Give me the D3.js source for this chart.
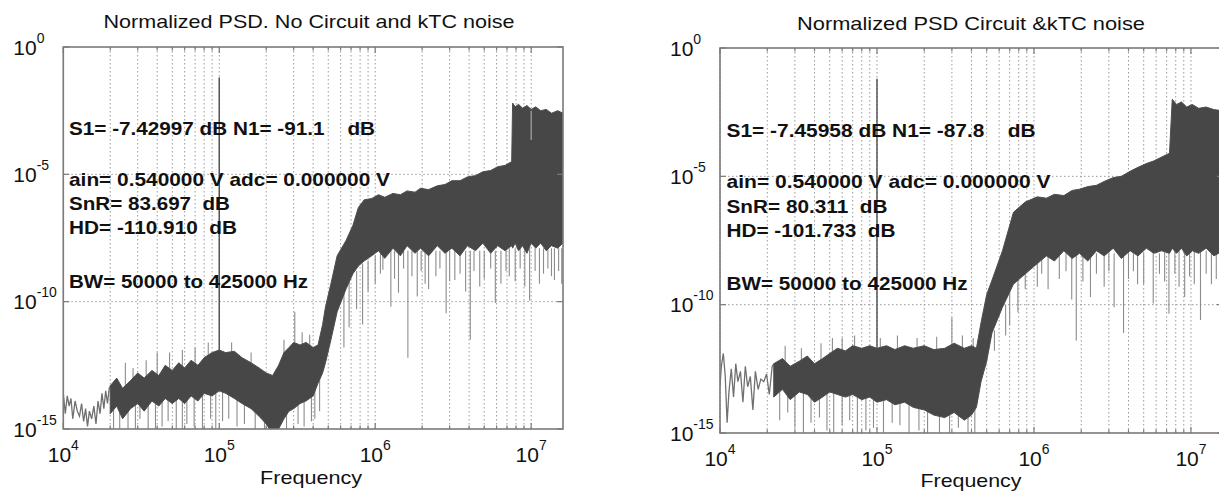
<!DOCTYPE html>
<html><head><meta charset="utf-8">
<script src="https://cdn.jsdelivr.net/npm/d3@7"></script>
<style>
body{margin:0;background:#fff}
text{font-family:"Liberation Sans",Arial,Helvetica,sans-serif;white-space:pre}
</style>
</head><body>
<svg id="chart" width="1219" height="494"></svg>
<script>
// ---------------- DATA ----------------
const titles = ["Normalized PSD. No Circuit and kTC noise", "Normalized PSD Circuit &kTC noise"];
const xLabel = "Frequency";
const xTickValues = [1e4, 1e5, 1e6, 1e7];
const xTickExps = ["4", "5", "6", "7"];
const yTickValues = [1, 1e-5, 1e-10, 1e-15];
const yTickExps = ["0", "-5", "-10", "-15"];
const xDomain = [1e4, 1.6e7];
const yDomain = [1e-15, 1];

const leftNotes = ["S1= -7.42997 dB N1= -91.1    dB", "ain= 0.540000 V adc= 0.000000 V", "SnR= 83.697  dB", "HD= -110.910  dB", "BW= 50000 to 425000 Hz"];
const rightNotes = ["S1= -7.45958 dB N1= -87.8    dB", "ain= 0.540000 V adc= 0.000000 V", "SnR= 80.311  dB", "HD= -101.733  dB", "BW= 50000 to 425000 Hz"];

// signal tone (log10 PSD at peak)
const toneFreq = 1e5;
const tonePeakExp = [-1.2, -1.2];

// ---- left panel (log10 of normalized PSD) ----
const leftLowFreq = [1.00e4,1.03e4,1.06e4,1.09e4,1.12e4,1.15e4,1.19e4,1.23e4,1.27e4,1.31e4,1.35e4,1.39e4,1.43e4,1.47e4,1.52e4,1.57e4,1.62e4,1.67e4,1.72e4,1.77e4,1.82e4,1.87e4,1.92e4,1.97e4,2.02e4];
const leftLowExp  = [-13.6,-14.4,-13.7,-14.1,-13.8,-14.6,-13.9,-14.3,-14.5,-14.0,-14.7,-14.2,-14.9,-14.3,-14.6,-14.1,-14.8,-13.9,-14.4,-13.6,-14.2,-13.5,-14.0,-13.4,-13.3];

const leftBandFreq  = [2.0e4,2.2e4,2.4e4,2.7e4,3.0e4,3.3e4,3.7e4,4.1e4,4.5e4,5.0e4,5.5e4,6.0e4,6.6e4,7.3e4,8.0e4,9.0e4,1.0e5,1.1e5,1.25e5,1.4e5,1.6e5,1.8e5,2.0e5,2.2e5,2.4e5,2.6e5,2.8e5,3.0e5,3.3e5,3.6e5,4.0e5,4.3e5,4.6e5,4.8e5,5.2e5,5.7e5,6.5e5,7.2e5,7.8e5,8.5e5,9.5e5,1.05e6,1.15e6,1.3e6,1.45e6,1.6e6,1.8e6,1.95e6,2.2e6,2.5e6,2.8e6,3.1e6,3.5e6,3.9e6,4.4e6,4.9e6,5.5e6,6.1e6,6.8e6,7.5e6,7.6e6,7.9e6,8.3e6,8.8e6,9.4e6,1.0e7,1.07e7,1.15e7,1.25e7,1.35e7,1.48e7,1.6e7];
const leftBandUpper = [-13.3,-13.0,-13.4,-13.1,-12.8,-13.0,-12.7,-12.9,-12.5,-12.7,-12.4,-12.6,-12.3,-12.5,-12.2,-12.0,-11.9,-12.0,-11.95,-12.2,-12.4,-12.6,-12.8,-12.9,-12.5,-12.0,-11.8,-11.6,-11.7,-11.6,-11.8,-11.7,-10.9,-10.2,-9.3,-8.2,-7.6,-7.0,-6.3,-6.0,-5.95,-5.8,-5.9,-5.75,-5.8,-5.65,-5.7,-5.55,-5.6,-5.45,-5.4,-5.25,-5.25,-5.1,-5.05,-4.9,-4.85,-4.7,-4.65,-4.5,-2.2,-2.35,-2.25,-2.4,-2.3,-2.45,-2.35,-2.5,-2.45,-2.6,-2.5,-2.6];
const leftBandLower = [-14.4,-14.1,-14.6,-14.2,-14.0,-14.3,-13.9,-14.1,-13.8,-14.0,-13.8,-14.0,-13.7,-13.9,-13.6,-13.7,-13.5,-13.6,-13.8,-14.0,-14.2,-14.5,-14.8,-15.2,-15.0,-14.6,-14.3,-14.2,-14.0,-13.9,-13.7,-13.2,-12.8,-12.4,-11.5,-10.4,-9.5,-8.9,-8.6,-8.4,-8.2,-8.0,-8.3,-7.9,-8.2,-7.8,-8.1,-7.9,-8.2,-7.8,-8.1,-7.9,-8.2,-7.8,-8.0,-7.7,-8.1,-7.8,-8.0,-7.8,-7.9,-7.7,-8.0,-7.8,-8.1,-7.7,-7.9,-7.7,-8.0,-7.8,-7.9,-7.7];

const leftSpikeFreq   = [2.1e4,2.3e4,2.6e4,2.9e4,3.1e4,3.5e4,3.9e4,4.3e4,4.7e4,5.3e4,5.8e4,6.2e4,6.9e4,7.8e4,8.8e4,9.5e4,1.05e5,1.15e5,1.3e5,1.45e5,1.7e5,1.95e5,2.7e5,3.2e5,3.5e5,3.9e5,4.1e5,4.4e5,6.3e5,6.8e5,7.6e5,8.3e5,9.0e5,1.0e6,1.08e6,1.12e6,1.26e6,1.33e6,1.41e6,1.52e6,1.62e6,1.72e6,1.86e6,1.97e6,2.09e6,2.2e6,2.45e6,2.6e6,2.85e6,3.0e6,3.24e6,3.5e6,3.8e6,4.07e6,4.3e6,4.68e6,5.0e6,5.5e6,5.89e6,6.4e6,6.9e6,7.24e6,7.9e6,8.5e6,9.1e6,9.77e6,1.06e7,1.13e7,1.2e7,1.28e7,1.35e7,1.41e7,1.5e7,1.57e7];
const leftSpikeTop    = [-14.0,-13.8,-14.0,-13.7,-13.9,-13.5,-13.6,-13.6,-13.5,-13.5,-13.6,-13.6,-13.5,-13.4,-13.3,-13.3,-13.2,-13.3,-13.3,-13.5,-13.8,-14.2,-14.0,-13.5,-13.6,-13.3,-13.3,-12.5,-9.5,-9.0,-8.8,-8.5,-8.4,-8.2,-8.1,-8.1,-8.0,-8.0,-8.0,-8.0,-8.0,-8.0,-8.0,-8.0,-8.0,-8.0,-8.0,-8.0,-8.0,-8.0,-8.0,-8.0,-8.0,-8.0,-8.0,-8.0,-8.0,-8.0,-8.0,-8.0,-7.9,-7.9,-7.9,-7.9,-7.9,-7.9,-7.9,-7.9,-7.9,-7.9,-7.9,-7.9,-7.9,-7.9];
const leftSpikeBottom = [-15.0,-15.2,-15.1,-15.0,-14.6,-15.2,-15.0,-14.9,-14.7,-15.1,-15.2,-14.8,-14.9,-15.0,-14.6,-15.0,-14.7,-14.6,-14.9,-14.8,-15.1,-15.2,-15.0,-14.8,-14.9,-14.7,-14.6,-14.3,-11.8,-11.0,-10.3,-10.9,-9.6,-9.3,-8.9,-8.75,-10.2,-9.1,-9.65,-8.7,-12.2,-9.0,-9.8,-8.8,-9.3,-9.5,-9.0,-8.7,-10.45,-9.2,-9.15,-8.9,-9.6,-11.5,-8.8,-9.4,-9.1,-8.7,-10.05,-9.3,-8.8,-9.0,-9.2,-8.7,-9.4,-9.95,-8.8,-9.3,-8.9,-8.7,-9.0,-9.15,-8.8,-9.3];
const leftUpFreq   = [2.5e4, 2.8e4, 3.4e4, 4.0e4, 4.8e4, 5.8e4, 7.0e4, 8.5e4, 1.2e5, 1.6e5, 2.6e5, 3.05e5, 3.4e5, 3.8e5];
const leftUpTop    = [-12.4, -12.6, -12.3, -12.0, -12.0, -11.9, -11.8, -11.6, -11.6, -12.0, -11.5, -10.4, -11.2, -11.3];
const leftUpBottom = [-13.3, -13.2, -13.2, -13.0, -13.0, -13.0, -12.8, -12.5, -12.5, -13.0, -12.5, -12.0, -12.2, -12.2];
const leftNotchFreq = [1.0e7];
const leftNotchTop = [-2.5];
const leftNotchBottom = [-3.65];

// ---- right panel ----
const rightLowFreq = [1.00e4,1.02e4,1.05e4,1.08e4,1.11e4,1.14e4,1.18e4,1.22e4,1.26e4,1.30e4,1.35e4,1.40e4,1.45e4,1.50e4,1.56e4,1.62e4,1.68e4,1.75e4,1.82e4,1.90e4,1.98e4,2.06e4,2.15e4,2.22e4];
const rightLowExp  = [-13.2,-12.4,-11.9,-12.8,-14.6,-13.4,-12.5,-13.6,-12.3,-13.0,-12.6,-13.8,-12.4,-13.2,-12.8,-14.1,-12.6,-13.3,-12.9,-13.0,-12.7,-13.5,-12.4,-12.3];

const rightBandFreq  = [2.2e4,2.5e4,2.8e4,3.2e4,3.6e4,4.0e4,4.5e4,5.0e4,5.6e4,6.3e4,7.0e4,8.0e4,9.0e4,1.0e5,1.15e5,1.3e5,1.5e5,1.7e5,2.0e5,2.3e5,2.7e5,3.1e5,3.6e5,4.0e5,4.3e5,4.6e5,5.0e5,5.4e5,6.3e5,7.4e5,8.8e5,1.05e6,1.2e6,1.35e6,1.55e6,1.75e6,1.95e6,2.2e6,2.5e6,2.8e6,3.2e6,3.6e6,4.1e6,4.6e6,5.2e6,5.8e6,6.5e6,7.3e6,7.6e6,8.1e6,8.7e6,9.4e6,1.02e7,1.12e7,1.25e7,1.4e7,1.6e7];
const rightBandUpper = [-12.3,-12.1,-12.4,-12.2,-12.0,-12.3,-12.1,-11.9,-11.7,-11.8,-11.6,-11.7,-11.6,-11.7,-11.6,-11.75,-11.6,-11.7,-11.6,-11.75,-11.7,-11.5,-11.7,-11.6,-11.7,-10.7,-9.6,-9.05,-7.9,-6.4,-6.0,-5.8,-5.85,-5.7,-5.75,-5.55,-5.5,-5.4,-5.35,-5.2,-5.05,-5.0,-4.8,-4.65,-4.5,-4.4,-4.25,-4.1,-2.0,-2.2,-2.1,-2.3,-2.2,-2.35,-2.3,-2.4,-2.45];
const rightBandLower = [-13.6,-13.3,-13.7,-13.4,-13.5,-13.8,-13.6,-13.4,-13.5,-13.6,-13.5,-13.7,-13.6,-13.8,-13.7,-13.9,-13.8,-14.0,-14.1,-14.3,-14.4,-14.2,-14.5,-14.3,-14.0,-13.0,-12.2,-11.1,-10.1,-9.2,-8.8,-8.4,-8.1,-8.3,-7.9,-8.2,-8.0,-8.3,-7.9,-8.1,-7.8,-8.2,-7.9,-8.1,-7.8,-8.0,-7.9,-8.0,-7.8,-8.0,-7.8,-8.1,-7.9,-8.0,-7.8,-8.1,-7.9];

const rightSpikeFreq   = [2.4e4,2.7e4,3.0e4,3.4e4,3.8e4,4.3e4,4.8e4,5.3e4,6.0e4,6.7e4,7.5e4,8.5e4,9.5e4,1.1e5,1.25e5,1.4e5,1.6e5,1.85e5,2.1e5,2.5e5,2.9e5,3.3e5,3.8e5,4.2e5,5.6e5,6.6e5,7.0e5,7.9e5,8.8e5,1.05e6,1.12e6,1.23e6,1.45e6,1.6e6,1.74e6,1.86e6,2.05e6,2.29e6,2.5e6,2.8e6,3.0e6,3.24e6,3.72e6,4.0e6,4.3e6,4.57e6,5.0e6,5.75e6,6.3e6,6.8e6,7.24e6,7.9e6,8.4e6,9.12e6,9.8e6,1.05e7,1.15e7,1.25e7,1.35e7,1.45e7,1.55e7];
const rightSpikeTop    = [-13.4,-13.3,-13.5,-13.3,-13.4,-13.6,-13.4,-13.3,-13.4,-13.5,-13.4,-13.5,-13.5,-13.6,-13.6,-13.7,-13.7,-13.8,-13.9,-14.0,-14.1,-14.1,-14.2,-14.0,-11.0,-10.0,-9.5,-9.0,-8.6,-8.2,-8.0,-8.0,-8.0,-8.0,-8.0,-8.0,-8.0,-8.0,-8.0,-8.0,-8.0,-8.0,-8.0,-8.0,-8.0,-8.0,-8.0,-8.0,-8.0,-7.9,-7.9,-7.9,-7.9,-7.9,-7.9,-7.9,-7.9,-7.9,-7.9,-7.9,-7.9];
const rightSpikeBottom = [-14.5,-14.2,-14.8,-15.0,-14.6,-14.4,-14.9,-15.1,-14.7,-14.5,-15.1,-14.9,-14.8,-15.2,-14.6,-14.7,-15.0,-14.9,-15.1,-15.0,-15.2,-14.8,-15.0,-15.2,-11.8,-11.2,-10.8,-10.3,-9.4,-9.3,-8.8,-9.4,-9.0,-8.7,-9.8,-11.4,-9.1,-9.7,-8.8,-9.3,-8.7,-10.1,-11.1,-9.0,-8.7,-9.2,-9.2,-9.95,-8.8,-9.1,-10.35,-8.8,-9.3,-9.7,-8.9,-9.2,-10.6,-8.8,-9.2,-9.0,-9.4];
const rightUpFreq   = [2.6e4, 3.3e4, 4.4e4, 5.2e4, 6.0e4, 7.2e4, 1.05e5, 1.35e5, 1.8e5, 2.4e5, 3.0e5, 3.5e5, 4.1e5];
const rightUpTop    = [-11.6, -11.7, -11.5, -11.3, -11.3, -11.2, -11.3, -11.2, -11.3, -11.25, -10.5, -11.2, -11.3];
const rightUpBottom = [-12.5, -12.5, -12.4, -12.2, -12.0, -12.0, -12.0, -12.0, -12.0, -12.0, -12.0, -12.0, -12.0];
const rightNotchFreq = [];
const rightNotchTop = [];
const rightNotchBottom = [];

// ---------------- LAYOUT ----------------
const svg = d3.select("#chart");
const exp10 = e => Math.pow(10, e);

const panels = [
  {x0: 63.3, x1: 563, y0: 47, y1: 429, title: titles[0], titleX: 309, titleY: 28, titleW: 411,
   notes: leftNotes, noteX: 69, noteY: [135, 186, 210, 234, 288], noteW: [306, 321, 161, 168, 239],
   labelX: 311, labelY: 484, labelW: 102,
   low: [leftLowFreq, leftLowExp], band: [leftBandFreq, leftBandUpper, leftBandLower],
   spikes: [leftSpikeFreq, leftSpikeTop, leftSpikeBottom], ups: [leftUpFreq, leftUpTop, leftUpBottom],
   notch: [leftNotchFreq, leftNotchTop, leftNotchBottom], tone: tonePeakExp[0], id: "L"},
  {x0: 720, x1: 1223, y0: 48, y1: 433, title: titles[1], titleX: 971, titleY: 30, titleW: 348,
   notes: rightNotes, noteX: 726.5, noteY: [137, 188, 213, 237, 290], noteW: [309, 324, 161, 169, 241],
   labelX: 971, labelY: 487, labelW: 101,
   low: [rightLowFreq, rightLowExp], band: [rightBandFreq, rightBandUpper, rightBandLower],
   spikes: [rightSpikeFreq, rightSpikeTop, rightSpikeBottom], ups: [rightUpFreq, rightUpTop, rightUpBottom],
   notch: [rightNotchFreq, rightNotchTop, rightNotchBottom], tone: tonePeakExp[1], id: "R"}
];

panels.forEach(p => {
  const x = d3.scaleLog().domain(xDomain).range([p.x0, p.x1]);
  const y = d3.scaleLog().domain(yDomain).range([p.y1, p.y0]);
  const g = svg.append("g");

  svg.append("clipPath").attr("id", "clip" + p.id)
    .append("rect").attr("x", p.x0).attr("y", p.y0).attr("width", p.x1 - p.x0).attr("height", p.y1 - p.y0);

  // grid
  const allX = x.ticks().filter(v => v >= xDomain[0] && v <= xDomain[1]);
  g.append("g").selectAll("line").data(allX).join("line")
    .attr("x1", d => x(d)).attr("x2", d => x(d)).attr("y1", p.y0).attr("y2", p.y1)
    .attr("stroke", "#9a9a9a").attr("stroke-width", 1).attr("stroke-dasharray", "1.5,2.5");
  g.append("g").selectAll("line").data([1e-5, 1e-10]).join("line")
    .attr("x1", p.x0).attr("x2", p.x1).attr("y1", d => y(d)).attr("y2", d => y(d))
    .attr("stroke", "#9a9a9a").attr("stroke-width", 1).attr("stroke-dasharray", "1.5,2.5");

  const data = g.append("g").attr("clip-path", `url(#clip${p.id})`);

  // tone line
  data.append("line").attr("x1", x(toneFreq)).attr("x2", x(toneFreq))
    .attr("y1", y(exp10(p.tone))).attr("y2", y(exp10(-13.5)))
    .attr("stroke", "#555").attr("stroke-width", 1.5);

  // light spikes (below / above the dark band)
  const drawSpikes = (arr, color) => {
    const [sf, st, sb] = arr;
    data.append("g").selectAll("line").data(sf.map((f, i) => [f, st[i], sb[i]])).join("line")
      .attr("x1", d => x(d[0])).attr("x2", d => x(d[0]))
      .attr("y1", d => y(exp10(d[1]))).attr("y2", d => y(exp10(d[2])))
      .attr("stroke", color).attr("stroke-width", 1.1);
  };
  drawSpikes(p.spikes, "#8c8c8c");
  drawSpikes(p.ups, "#8c8c8c");

  // low-frequency trace
  const [lf, le] = p.low;
  data.append("path").datum(lf.map((f, i) => [f, le[i]]))
    .attr("d", d3.line().x(d => x(d[0])).y(d => y(exp10(d[1]))))
    .attr("fill", "none").attr("stroke", "#707070").attr("stroke-width", 1.3);

  // dark band
  const [bf, bu, bl] = p.band;
  data.append("path").datum(bf.map((f, i) => [f, bu[i], bl[i]]))
    .attr("d", d3.area().x(d => x(d[0])).y0(d => y(exp10(d[2]))).y1(d => y(exp10(d[1]))))
    .attr("fill", "#474747").attr("stroke", "#4d4d4d").attr("stroke-width", 1);

  // light notch inside the band
  drawSpikes(p.notch, "#b0b0b0");

  // box
  g.append("rect").attr("x", p.x0).attr("y", p.y0).attr("width", p.x1 - p.x0).attr("height", p.y1 - p.y0)
    .attr("fill", "none").attr("stroke", "#7a7a7a").attr("stroke-width", 1.6);

  // ticks (inside)
  const tickG = g.append("g").attr("stroke", "#7a7a7a").attr("stroke-width", 1.2);
  allX.forEach(v => {
    const major = xTickValues.includes(v);
    const len = major ? 6 : 3.5;
    tickG.append("line").attr("x1", x(v)).attr("x2", x(v)).attr("y1", p.y1).attr("y2", p.y1 - len);
    tickG.append("line").attr("x1", x(v)).attr("x2", x(v)).attr("y1", p.y0).attr("y2", p.y0 + len);
  });
  yTickValues.forEach(v => {
    tickG.append("line").attr("x1", p.x0).attr("x2", p.x0 + 6).attr("y1", y(v)).attr("y2", y(v));
    tickG.append("line").attr("x1", p.x1).attr("x2", p.x1 - 6).attr("y1", y(v)).attr("y2", y(v));
  });

  // x tick labels
  xTickValues.forEach((v, i) => {
    const t = g.append("text").attr("x", x(v)).attr("y", p.y1 + 33).attr("text-anchor", "middle")
      .attr("font-size", 21).attr("fill", "#111");
    t.append("tspan").text("10");
    t.append("tspan").attr("dy", -12).attr("font-size", 14).text(xTickExps[i]);
  });
  // y tick labels
  yTickValues.forEach((v, i) => {
    const t = g.append("text").attr("x", p.x0 - 50).attr("y", y(v) + 7.5).attr("text-anchor", "start")
      .attr("font-size", 21).attr("fill", "#111");
    t.append("tspan").text("10");
    t.append("tspan").attr("dy", -12).attr("font-size", 14).text(yTickExps[i]);
  });

  // title
  g.append("text").attr("x", p.titleX).attr("y", p.titleY).attr("text-anchor", "middle")
    .attr("font-size", 18.5).attr("fill", "#111")
    .attr("textLength", p.titleW).attr("lengthAdjust", "spacingAndGlyphs").text(p.title);
  // x label
  g.append("text").attr("x", p.labelX).attr("y", p.labelY).attr("text-anchor", "middle")
    .attr("font-size", 18.5).attr("fill", "#111")
    .attr("textLength", p.labelW).attr("lengthAdjust", "spacingAndGlyphs").text(xLabel);

  // annotations
  p.notes.forEach((s, i) => {
    g.append("text").attr("x", p.noteX).attr("y", p.noteY[i]).attr("font-size", 18.5)
      .attr("font-weight", "bold").attr("fill", "#111")
      .attr("textLength", p.noteW[i]).attr("lengthAdjust", "spacingAndGlyphs").text(s);
  });
});
</script>
</body></html>
